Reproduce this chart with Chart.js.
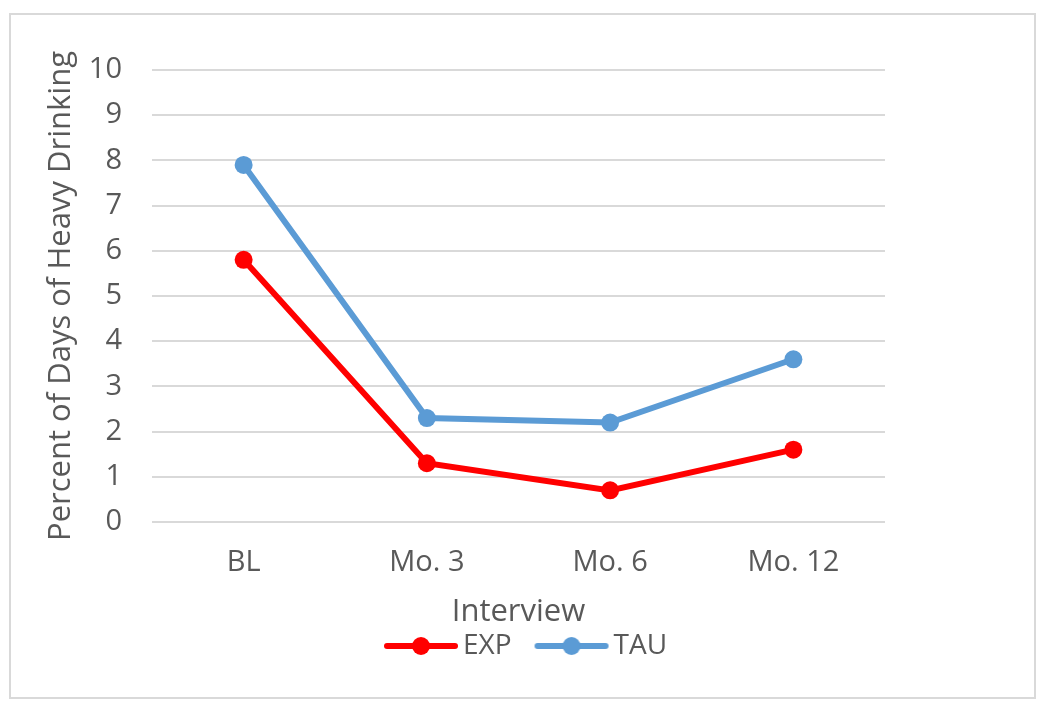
<!DOCTYPE html>
<html>
<head>
<meta charset="utf-8">
<script src="https://cdn.jsdelivr.net/npm/chart.js@4/dist/chart.umd.min.js"></script>
<style>
  body { margin: 0; background: #fff; }
  #frame { position: absolute; left: 9px; top: 13px; width: 1023px; height: 682px; border: 2px solid #d9d9d9; }
  #myChart { position: absolute; left: 0; top: 0; }
</style>
</head>
<body>
<div id="frame"></div>
<canvas id="myChart" width="1050" height="711"></canvas>
<script>
// data
var categories = ["BL", "Mo. 3", "Mo. 6", "Mo. 12"];
var expValues = [5.8, 1.3, 0.7, 1.6];
var tauValues = [7.9, 2.3, 2.2, 3.6];
var yTicks = [0, 1, 2, 3, 4, 5, 6, 7, 8, 9, 10];

var textColor = "#595959";
var fontFamily = "'Open Sans', sans-serif";

// legend marker: line with a dot in the middle
function legendMarker(color) {
  var c = document.createElement("canvas");
  c.width = 76; c.height = 22;
  var g = c.getContext("2d");
  g.strokeStyle = color;
  g.lineWidth = 6;
  g.lineCap = "round";
  g.beginPath(); g.moveTo(4, 11); g.lineTo(72, 11); g.stroke();
  g.fillStyle = color;
  g.beginPath(); g.arc(38, 11, 9, 0, Math.PI * 2); g.fill();
  return c;
}
var markers = [legendMarker("#ff0000"), legendMarker("#5b9bd5")];

var ctx = document.getElementById("myChart");
var myLineChart = new Chart(ctx, {
  type: "line",
  data: {
    labels: categories,
    datasets: [
      { label: "EXP", data: expValues, borderColor: "#ff0000", backgroundColor: "#ff0000",
        borderWidth: 6, pointRadius: 9, pointHoverRadius: 9, pointBorderWidth: 0, tension: 0 },
      { label: "TAU", data: tauValues, borderColor: "#5b9bd5", backgroundColor: "#5b9bd5",
        borderWidth: 6, pointRadius: 9, pointHoverRadius: 9, pointBorderWidth: 0, tension: 0 }
    ]
  },
  options: {
    responsive: false,
    animation: false,
    devicePixelRatio: 1,
    layout: { padding: { left: 48, right: 38, top: 70, bottom: 41 } },
    plugins: {
      tooltip: { enabled: false },
      legend: {
        position: "bottom",
        labels: {
          color: textColor,
          font: { family: fontFamily, size: 28 },
          usePointStyle: true,
          pointStyleWidth: 56,
          padding: 32,
          generateLabels: function (chart) {
            var items = Chart.defaults.plugins.legend.labels.generateLabels(chart);
            items.forEach(function (it, i) { it.pointStyle = markers[i]; });
            return items;
          }
        }
      }
    },
    scales: {
      x: {
        offset: true,
        afterFit: function (scale) { scale.height = 78; },
        grid: { display: false, drawTicks: false },
        border: { display: false },
        ticks: { color: textColor, font: { family: fontFamily, size: 29 }, padding: 23 },
        title: { display: true, text: "Interview", color: textColor,
                 font: { family: fontFamily, size: 31 }, padding: { top: 0, bottom: -31 } }
      },
      y: {
        min: 0, max: 10,
        afterBuildTicks: function (scale) {
          scale.ticks = yTicks.map(function (v) { return { value: v }; });
        },
        afterFit: function (scale) { scale.width = 104; },
        grid: { color: "#d9d9d9", lineWidth: 2, drawTicks: false },
        border: { display: false },
        ticks: { color: textColor, font: { family: fontFamily, size: 29 }, padding: 30 },
        title: { display: true, text: "Percent of Days of Heavy Drinking", color: textColor,
                 font: { family: fontFamily, size: 31 }, padding: { top: -5, bottom: 0 } }
      },
      // empty right-hand space so the legend is centred like the original
      yRight: {
        position: "right",
        afterFit: function (scale) { scale.width = 127; },
        grid: { display: false },
        border: { display: false },
        ticks: { display: false }
      }
    }
  }
});
</script>
</body>
</html>
